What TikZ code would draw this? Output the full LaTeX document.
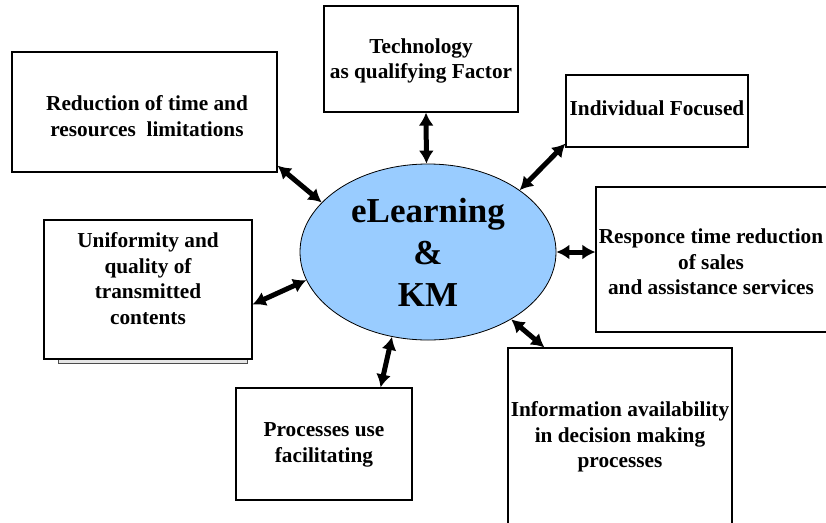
\documentclass[tikz,border=0pt]{standalone}
\usepackage{fontspec}
\setmainfont{Liberation Serif}
\usetikzlibrary{arrows.meta,shapes.geometric,calc}
\definecolor{elb}{RGB}{153,204,255}
\begin{document}
\begin{tikzpicture}[x=1pt,y=-1pt,
  box/.style={draw=black, line width=1.2pt, fill=white, rectangle, inner sep=0pt},
  lbl/.style={font=\bfseries\fontsize{21.3}{25.5}\selectfont, align=center, inner sep=0pt},
  link/.style={line width=5pt, {Latex[length=13pt,width=15pt]}-{Latex[length=13pt,width=15pt]}},
]
\useasboundingbox (0,0) rectangle (826,522);
% boxes
\node[box, minimum width=265pt, minimum height=120pt] (red) at (144.5,112) {};
\node[box, minimum width=194pt, minimum height=106pt] (tech) at (421,59) {};
\node[box, minimum width=182pt, minimum height=72pt] (ind) at (657,111) {};
\node[box, minimum width=274pt, minimum height=145pt] (resp) at (733,259.5) {};
\draw[line width=1pt, draw=black!70, fill=black!10] (58,355) rectangle (247,363);
\node[box, minimum width=208pt, minimum height=139pt] (uni) at (148,289.5) {};
\node[box, minimum width=176pt, minimum height=112pt] (proc) at (324,444) {};
\node[box, minimum width=224pt, minimum height=212pt] (info) at (620,454) {};
% texts
\node[lbl] (redt) at (147,116) {Reduction of time and\\resources~ limitations};
\node[lbl] (techt) at (421,61) {Technology\\as qualifying Factor};
\node[lbl] (indt) at (657,108) {Individual Focused};
\node[lbl] (respt) at (711,262) {Responce time reduction\\of sales\\and assistance services};
\node[lbl] (unit) at (148,278.5) {Uniformity and\\quality of\\transmitted\\contents};
\node[lbl] (proct) at (324,445) {Processes use\\facilitating};
\node[lbl] (infot) at (620,437) {Information availability\\in decision making\\processes};
% centre
\node[ellipse, draw=black, line width=0.8pt, fill=elb, minimum width=256pt, minimum height=176pt, inner sep=0pt,
      font=\bfseries\fontsize{35}{42}\selectfont, align=center] (el) at (428,252) {eLearning\\\&\\KM};
% connectors
\draw[link] ([yshift=7pt]red.south east) -- (el.155);
\draw[link] ([xshift=5pt]tech.south) -- (el.91);
\draw[link] ([yshift=4pt]ind.south west) -- (el.34);
\draw[link] (el.0) -- ([yshift=7.5pt]resp.west);
\draw[link] (el.-39) -- ([xshift=37pt]info.north west);
\draw[link] (el.-113) -- ([xshift=-32pt]proc.north east);
\draw[link] (el.193) -- ([yshift=-15pt]uni.east);
\end{tikzpicture}
\end{document}
